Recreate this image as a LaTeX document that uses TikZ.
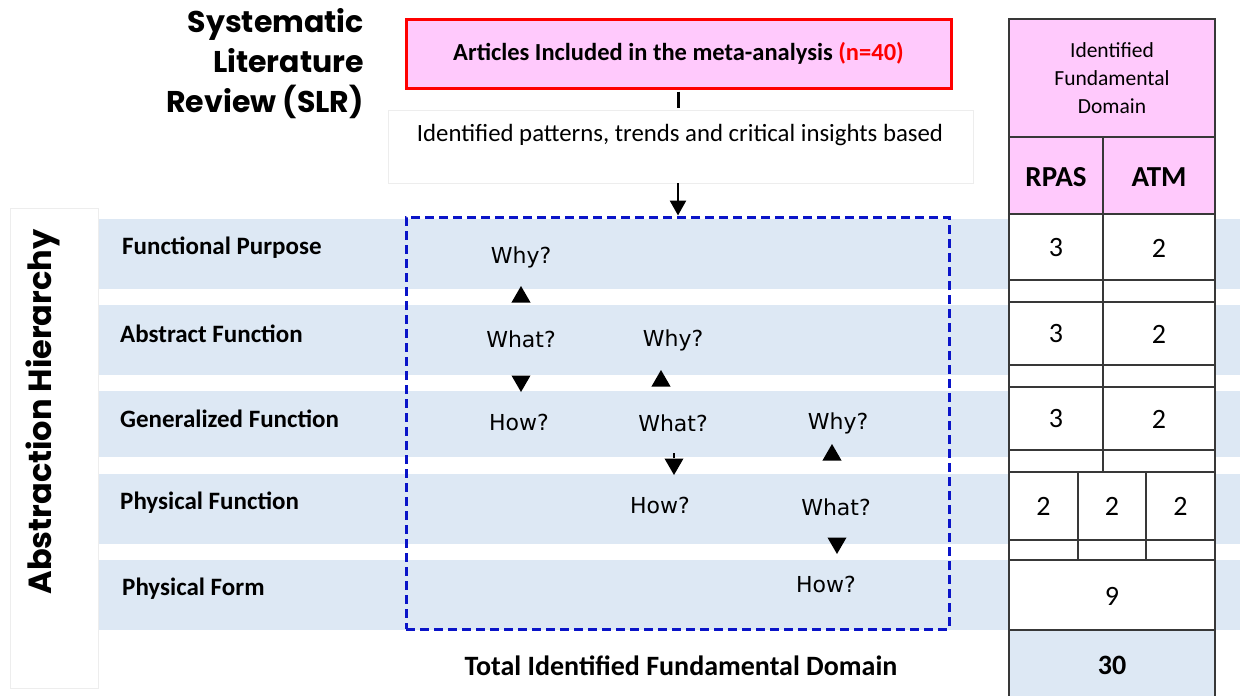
\documentclass[tikz,border=0pt]{standalone}
\usepackage{fontspec}
\setmainfont{Carlito}
\newfontfamily\geofont{Poppins}
\newfontfamily\comicfont{DejaVu Sans}
\usetikzlibrary{arrows.meta,shapes.geometric}
\definecolor{bandblue}{HTML}{DDE8F4}
\definecolor{boxpink}{HTML}{FFC9FC}
\definecolor{dashblue}{HTML}{0A14C8}
\definecolor{gridgray}{HTML}{383838}
\definecolor{faintgray}{HTML}{EDEDED}
\definecolor{nred}{HTML}{FF0000}
\tikzset{
  band/.style={fill=bandblue,draw=none},
  lvl/.style={anchor=west,font=\bfseries\fontsize{25}{29}\selectfont,inner sep=0pt},
  qtext/.style={font=\comicfont\fontsize{22}{26}\selectfont,inner sep=1pt},
  tri/.style={regular polygon,regular polygon sides=3,fill=black,inner sep=0pt,minimum size=22pt},
  triup/.style={tri},
  tridown/.style={tri,shape border rotate=180},
  cell/.style={draw=gridgray,line width=1.4pt},
  num/.style={font=\fontsize{28}{32}\selectfont,inner sep=0pt},
}
\begin{document}
\begin{tikzpicture}[x=1pt,y=-1pt]
\useasboundingbox (0,0) rectangle (1240,696);
\fill[white] (0,0) rectangle (1240,696);

% bands
\foreach \i/\a/\b in {1/219/289,2/305/375,3/391/457,4/474/544,5/560/630}{
  \path[band] (99,\a) rectangle (1240,\b);
}
\node[lvl] (fp) at (122,248) {Functional Purpose};
\node[lvl] (af) at (120,334) {Abstract Function};
\node[lvl] (gf) at (120,419) {Generalized Function};
\node[lvl] (pf) at (120,503) {Physical Function};
\node[lvl] (pform) at (122,589) {Physical Form};

% left vertical box
\node[draw=faintgray,fill=white,line width=0.6pt,minimum width=88pt,minimum height=480pt,inner sep=0pt] (vbox) at (54,448) {};
\node[rotate=90,font=\geofont\bfseries\fontsize{32}{36}\selectfont,inner sep=0pt] (abs) at (43,412) {Abstraction Hierarchy};

% title
\node[anchor=north east,align=right,font=\geofont\bfseries\fontsize{30}{40}\selectfont,inner sep=0pt] (title) at (364,8) {Systematic\\Literature\\Review (SLR)};

% top boxes
\node[draw=nred,line width=3pt,fill=boxpink,minimum width=545pt,minimum height=69pt,inner sep=0pt,font=\bfseries\fontsize{24.5}{28}\selectfont] (art) at (678.5,53.5) {Articles Included in the meta-analysis \textcolor{nred}{(n=40)}};
\node[draw=faintgray,line width=0.6pt,minimum width=585pt,minimum height=73pt,inner sep=0pt] (insbox) at (680.5,146.5) {};
\node[font=\fontsize{24.8}{28}\selectfont,inner sep=0pt] (ins) at (680,135) {Identified patterns, trends and critical insights based};

% dashed box
\node[draw=dashblue,line width=3pt,dash pattern=on 9pt off 5pt,minimum width=543pt,minimum height=412pt,inner sep=0pt] (ah) at (677.5,423) {};

\draw[line width=3pt] (art.south -| 678,0) ++(0,2) -- (678,108);
\draw[line width=2.5pt,-{Triangle[length=15pt,width=16pt]}] (678,183) -- (ah.north -| 678,0);

% questions column 1
\node[qtext] (why1) at (521,257) {Why?};
\node[triup] (u1) at (521,297) {};
\node[qtext] (what1) at (521,339) {What?};
\node[tridown] (d1) at (521,381) {};
\node[qtext] (how1) at (519,422) {How?};
% column 2
\node[qtext] (why2) at (673,340) {Why?};
\node[triup] (u2) at (661,381) {};
\node[qtext] (what2) at (673,423) {What?};
\node[tridown] (d2) at (674,464) {};
\draw[line width=2pt] (d2.north) -- ++(0,-5);
\node[qtext] (how2) at (660,505) {How?};
% column 3
\node[qtext] (why3) at (838,423) {Why?};
\node[triup] (u3) at (832,455) {};
\node[qtext] (what3) at (836,507) {What?};
\node[tridown] (d3) at (837,543) {};
\node[qtext] (how3) at (826,584) {How?};

% total
\node[font=\bfseries\fontsize{28}{32}\selectfont,inner sep=0pt] (tot) at (681,666) {Total Identified Fundamental Domain};

% table
\fill[boxpink] (1009,19) rectangle (1215,214);
\fill[white] (1009,214) rectangle (1215,630);
\fill[bandblue] (1009,630) rectangle (1215,700);
\draw[cell] (1009,19) rectangle (1215,700);
\foreach \y in {137,214,280,302,365,387,450,472,540,560,630}{
  \draw[cell] (1009,\y) -- (1215,\y);
}
\draw[cell] (1103,137) -- (1103,472);
\draw[cell] (1078,472) -- (1078,560);
\draw[cell] (1146,472) -- (1146,560);

\node[align=center,font=\fontsize{21.5}{28}\selectfont,inner sep=0pt] (hdr) at (1112,78) {Identified\\Fundamental\\Domain};
\node[font=\bfseries\fontsize{29}{33}\selectfont,inner sep=0pt] (rpas) at (1056,177) {RPAS};
\node[font=\bfseries\fontsize{29}{33}\selectfont,inner sep=0pt] (atm) at (1159,177) {ATM};
\node[num] (n11) at (1056,248) {3};
\node[num] (n12) at (1159,248) {2};
\node[num] (n21) at (1056,334) {3};
\node[num] (n22) at (1159,334) {2};
\node[num] (n31) at (1056,419) {3};
\node[num] (n32) at (1159,419) {2};
\node[num] (n41) at (1043.5,506) {2};
\node[num] (n42) at (1112,506) {2};
\node[num] (n43) at (1180.5,506) {2};
\node[num] (n5) at (1112,596) {9};
\node[num,font=\bfseries\fontsize{28}{32}\selectfont] (n6) at (1112,665) {30};
\end{tikzpicture}
\end{document}
